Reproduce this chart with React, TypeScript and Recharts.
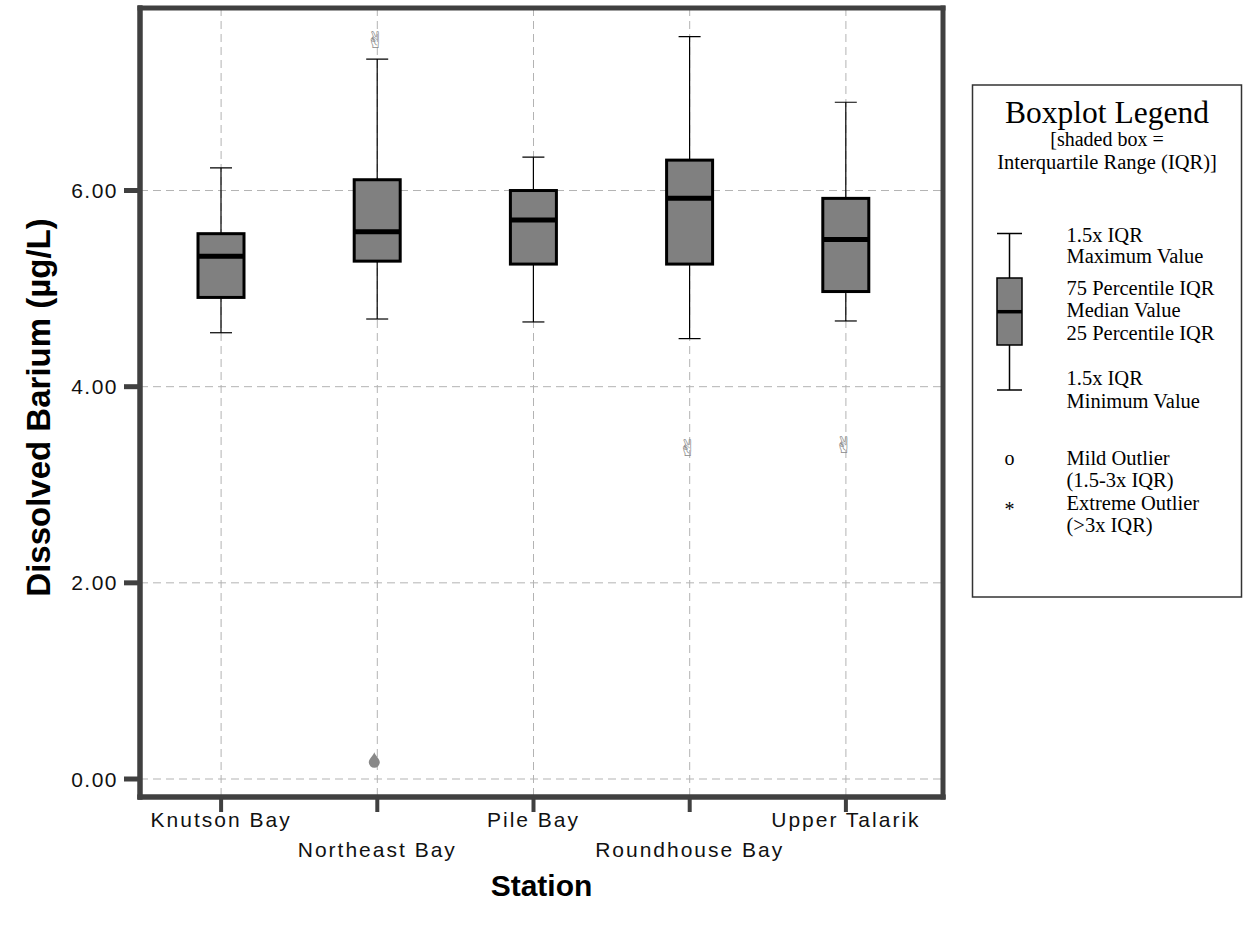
import React from 'react';
import { ComposedChart, Bar, Scatter, XAxis, YAxis, CartesianGrid } from 'recharts';

const stations = ['Knutson Bay', 'Northeast Bay', 'Pile Bay', 'Roundhouse Bay', 'Upper Talarik'];
const whiskerLow = [4.55, 4.69, 4.66, 4.49, 4.67];
const quartile1 = [4.91, 5.28, 5.25, 5.25, 4.97];
const medians = [5.33, 5.58, 5.70, 5.92, 5.50];
const quartile3 = [5.56, 6.11, 6.00, 6.31, 5.92];
const whiskerHigh = [6.23, 7.34, 6.34, 7.57, 6.90];
const extremeOutliers = [null, 7.53, null, 3.375, 3.405];
const mildOutliers = [null, 0.19, null, null, null];

const yTicks = [0, 2, 4, 6];
const yDomain = [-0.1835, 7.861];

const data = stations.map((s, i) => ({
  station: s,
  range: [whiskerLow[i], whiskerHigh[i]],
  lo: whiskerLow[i],
  q1: quartile1[i],
  med: medians[i],
  q3: quartile3[i],
  hi: whiskerHigh[i],
  extreme: extremeOutliers[i],
  mild: mildOutliers[i],
}));

const FRAME = '#404040';
const SANS = '"Liberation Sans", Arial, sans-serif';
const SERIF = '"Liberation Serif", "Times New Roman", serif';

const BoxShape = (props: any) => {
  const { x, y, width, height, payload } = props;
  if (payload == null || x == null) return <g />;
  const { lo, hi, q1, q3, med } = payload;
  const top = Math.min(y, y + height);
  const bot = Math.max(y, y + height);
  const toY = (v: number) => top + ((bot - top) * (hi - v)) / (hi - lo);
  const cx = x + width / 2;
  const capHalf = 11;
  return (
    <g>
      <line x1={cx} x2={cx} y1={toY(hi)} y2={toY(q3)} stroke="#000" strokeWidth={1.2} />
      <line x1={cx} x2={cx} y1={toY(q1)} y2={toY(lo)} stroke="#000" strokeWidth={1.2} />
      <line x1={cx - capHalf} x2={cx + capHalf} y1={toY(hi)} y2={toY(hi)} stroke="#000" strokeWidth={1.2} />
      <line x1={cx - capHalf} x2={cx + capHalf} y1={toY(lo)} y2={toY(lo)} stroke="#000" strokeWidth={1.2} />
      <rect x={x} y={toY(q3)} width={width} height={toY(q1) - toY(q3)} fill="#808080" stroke="#000" strokeWidth={3} />
      <line x1={x} x2={x + width} y1={toY(med)} y2={toY(med)} stroke="#000" strokeWidth={5} />
    </g>
  );
};

const ExtremeShape = (props: any) => {
  const { cx, cy, payload } = props;
  if (cx == null || cy == null || isNaN(cy) || payload == null || payload.extreme == null) return <g />;
  return (
    <text x={cx - 2} y={cy} textAnchor="middle" dominantBaseline="central" fontSize={23}
      fontFamily='"DejaVu Sans", sans-serif' fill="#8a8a8a">✌</text>
  );
};

const MildShape = (props: any) => {
  const { cx, cy, payload } = props;
  if (cx == null || cy == null || isNaN(cy) || payload == null || payload.mild == null) return <g />;
  const x = cx - 3;
  const d = `M ${x} ${cy - 8} C ${x - 1} ${cy - 5} ${x - 5.5} ${cy - 1} ${x - 5.5} ${cy + 2} A 5.5 5.5 0 0 0 ${x + 5.5} ${cy + 2} C ${x + 5.5} ${cy - 1} ${x + 1} ${cy - 5} ${x} ${cy - 8} Z`;
  return <path d={d} fill="#888" />;
};

const XTick = (props: any) => {
  const { x, y, payload, index } = props;
  const row = index % 2;
  return (
    <text x={x} y={y + (row ? 35 : 5)} textAnchor="middle" dominantBaseline="central" fontSize={21}
      fontFamily={SANS} fill="#111" style={{ letterSpacing: '2px' }}>
      {payload.value}
    </text>
  );
};

const YTick = (props: any) => {
  const { x, y, payload } = props;
  return (
    <text x={x} y={y} textAnchor="end" dominantBaseline="central" fontSize={21}
      fontFamily={SANS} fill="#111" style={{ letterSpacing: '1.5px' }}>
      {Number(payload.value).toFixed(2)}
    </text>
  );
};

const XTitle = (props: any) => {
  const vb = props.viewBox || {};
  return (
    <text x={vb.x + vb.width / 2} y={vb.y + 99} textAnchor="middle" fontSize={30} fontWeight="bold"
      fontFamily={SANS} fill="#000">Station</text>
  );
};

const YTitle = (props: any) => {
  const vb = props.viewBox || {};
  const cx = 38;
  const cy = vb.y + vb.height / 2 + 5;
  return (
    <text x={cx} y={cy} textAnchor="middle" dominantBaseline="central" fontSize={33} fontWeight="bold"
      fontFamily={SANS} fill="#000" transform={`rotate(-90 ${cx} ${cy})`}>Dissolved Barium (µg/L)</text>
  );
};

const LegendPanel = () => {
  const lines: [number, string][] = [
    [241.5, '1.5x IQR'],
    [263, 'Maximum Value'],
    [295, '75 Percentile IQR'],
    [317, 'Median Value'],
    [340, '25 Percentile IQR'],
    [385, '1.5x IQR'],
    [408, 'Minimum Value'],
    [465, 'Mild Outlier'],
    [486.5, '(1.5-3x IQR)'],
    [510, 'Extreme Outlier'],
    [531.5, '(>3x IQR)'],
  ];
  const bx = 1009.5;
  return (
    <svg width={1243} height={936} style={{ position: 'absolute', left: 0, top: 0, pointerEvents: 'none' }}>
      <rect x={972.5} y={85} width={269} height={512} fill="none" stroke="#333" strokeWidth={1.5} />
      <text x={1107} y={123} textAnchor="middle" fontSize={31.5} fontFamily={SERIF} fill="#000">Boxplot Legend</text>
      <text x={1107} y={146} textAnchor="middle" fontSize={20} fontFamily={SERIF} fill="#000">[shaded box =</text>
      <text x={1107} y={169} textAnchor="middle" fontSize={20.5} fontFamily={SERIF} fill="#000">Interquartile Range (IQR)]</text>
      <line x1={bx - 12.5} x2={bx + 12.5} y1={233.5} y2={233.5} stroke="#000" strokeWidth={1.5} />
      <line x1={bx} x2={bx} y1={233.5} y2={278} stroke="#000" strokeWidth={1.5} />
      <rect x={bx - 12.5} y={278} width={25} height={67} fill="#808080" stroke="#000" strokeWidth={1.5} />
      <line x1={bx - 12.5} x2={bx + 12.5} y1={311.7} y2={311.7} stroke="#000" strokeWidth={3.5} />
      <line x1={bx} x2={bx} y1={345} y2={390} stroke="#000" strokeWidth={1.5} />
      <line x1={bx - 12.5} x2={bx + 12.5} y1={390} y2={390} stroke="#000" strokeWidth={1.5} />
      <text x={bx} y={465} textAnchor="middle" fontSize={20} fontFamily={SERIF} fill="#000">o</text>
      <text x={bx} y={516} textAnchor="middle" fontSize={20} fontFamily={SERIF} fill="#000">*</text>
      {lines.map(([y, t], i) => (
        <text key={i} x={1066.5} y={y} fontSize={20.5} fontFamily={SERIF} fill="#000">{t}</text>
      ))}
    </svg>
  );
};

export default function App() {
  return (
    <div style={{ position: 'absolute', left: 0, top: 0, width: 1243, height: 936, background: '#fff' }}>
      <ComposedChart width={1243} height={936} data={data} margin={{ top: 8, right: 300, bottom: 39, left: 0 }}>
        <CartesianGrid stroke="#b3b3b3" strokeDasharray="8 5" strokeWidth={1} />
        <CartesianGrid
          stroke={FRAME}
          strokeWidth={5}
          strokeLinecap="square"
          horizontalCoordinatesGenerator={({ offset }: any) => [offset.top, offset.top + offset.height]}
          verticalCoordinatesGenerator={({ offset }: any) => [offset.left, offset.left + offset.width]}
        />
        <XAxis
          dataKey="station"
          type="category"
          height={100}
          padding={{ left: 3, right: 19 }}
          interval={0}
          axisLine={{ stroke: FRAME, strokeWidth: 5, strokeLinecap: 'square' }}
          tickLine={{ stroke: FRAME, strokeWidth: 4 }}
          tickSize={15}
          tick={<XTick />}
          label={<XTitle />}
        />
        <YAxis
          type="number"
          domain={yDomain}
          allowDataOverflow
          ticks={yTicks}
          width={140}
          tickSize={16}
          tickMargin={6}
          axisLine={{ stroke: FRAME, strokeWidth: 5, strokeLinecap: 'square' }}
          tickLine={{ stroke: FRAME, strokeWidth: 5 }}
          tick={<YTick />}
          label={<YTitle />}
        />
        <Bar dataKey="range" barSize={46} shape={<BoxShape />} isAnimationActive={false} />
        <Scatter dataKey="extreme" shape={<ExtremeShape />} isAnimationActive={false} />
        <Scatter dataKey="mild" shape={<MildShape />} isAnimationActive={false} />
      </ComposedChart>
      <LegendPanel />
    </div>
  );
}
